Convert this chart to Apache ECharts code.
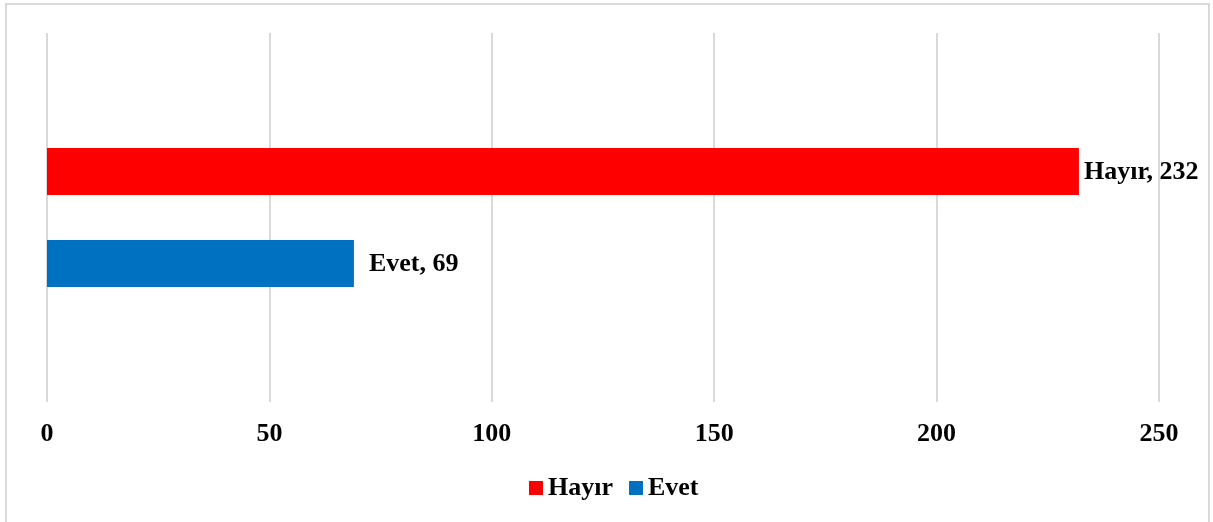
<!DOCTYPE html>
<html>
<head>
<meta charset="utf-8">
<style>
  html, body { margin: 0; padding: 0; background: #ffffff; }
  #chart { width: 1213px; height: 522px; }
</style>
<script src="https://cdn.jsdelivr.net/npm/echarts@6/dist/echarts.min.js"></script>
</head>
<body>
<div id="chart"></div>
<script>
// Survey answers: counts of "Hayır" and "Evet"
const categories = ['Yanıt'];
const seriesNames = ['Hayır', 'Evet'];
const hayirValues = [232];
const evetValues = [69];
const tickValues = [0, 50, 100, 150, 200, 250];

const FONT = '"Liberation Serif", "Times New Roman", serif';
const FONT_SIZE = 26;

const chart = echarts.init(document.getElementById('chart'), null, { renderer: 'canvas' });

chart.setOption({
  backgroundColor: '#ffffff',
  animation: false,
  graphic: [{
    type: 'rect',
    shape: { x: 6, y: 4, width: 1203, height: 530 },
    style: { fill: 'none', stroke: '#d9d9d9', lineWidth: 2 },
    silent: true,
    z: -10
  }],
  grid: { left: 47, right: 54, top: 33, bottom: 120, containLabel: false },
  legend: {
    data: seriesNames,
    bottom: 16,
    left: 524,
    itemWidth: 14,
    itemHeight: 14,
    itemGap: 16,
    icon: 'rect',
    textStyle: { fontFamily: FONT, fontSize: FONT_SIZE, fontWeight: 'bold', color: '#000000' }
  },
  xAxis: {
    type: 'value',
    min: tickValues[0],
    max: tickValues[tickValues.length - 1],
    interval: tickValues[1] - tickValues[0],
    axisLine: { show: false },
    axisTick: { show: false },
    splitLine: { show: true, lineStyle: { color: '#d9d9d9', width: 2 } },
    axisLabel: { fontFamily: FONT, fontSize: FONT_SIZE, fontWeight: 'bold', color: '#000000', margin: 19 }
  },
  yAxis: {
    type: 'category',
    data: categories,
    inverse: true,
    axisLine: { show: false },
    axisTick: { show: false },
    axisLabel: { show: false },
    splitLine: { show: false }
  },
  series: [
    {
      name: seriesNames[0],
      type: 'bar',
      data: hayirValues,
      barWidth: 47,
      barGap: '96%',
      itemStyle: { color: '#ff0000' },
      label: {
        show: true, position: 'right', distance: 5, offset: [0, 1],
        formatter: '{a}, {c}',
        fontFamily: FONT, fontSize: FONT_SIZE, fontWeight: 'bold', color: '#000000'
      }
    },
    {
      name: seriesNames[1],
      type: 'bar',
      data: evetValues,
      barWidth: 47,
      barGap: '96%',
      itemStyle: { color: '#0070c0' },
      label: {
        show: true, position: 'right', distance: 15, offset: [0, 1],
        formatter: '{a}, {c}',
        fontFamily: FONT, fontSize: FONT_SIZE, fontWeight: 'bold', color: '#000000'
      }
    }
  ]
});
</script>
</body>
</html>
